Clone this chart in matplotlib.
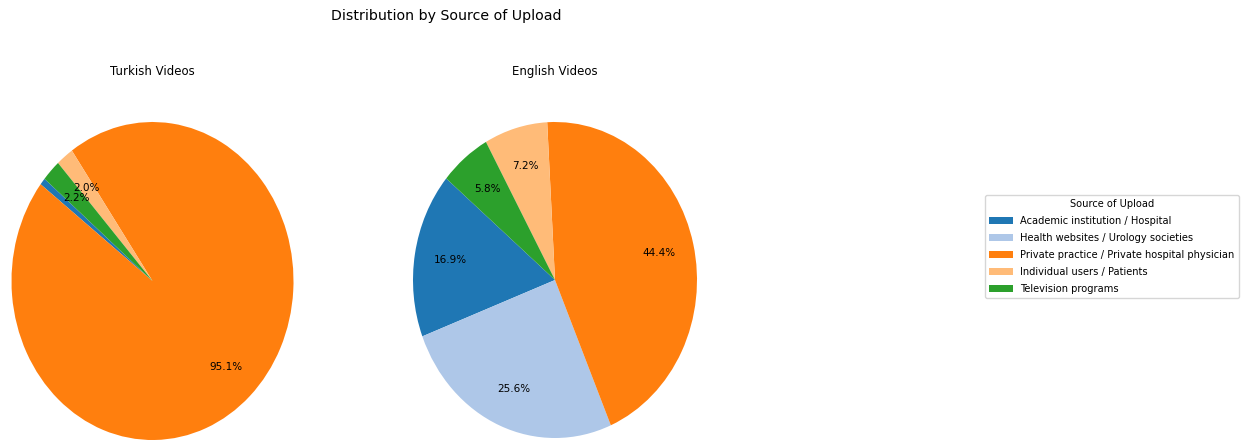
import matplotlib.pyplot as plt

sources = ["Academic institution / Hospital",
           "Health websites / Urology societies",
           "Private practice / Private hospital physician",
           "Individual users / Patients",
           "Television programs"]
turkish = [0.7, 0.0, 95.1, 2.0, 2.2]
english = [16.9, 25.6, 44.4, 7.2, 5.8]
colors = plt.get_cmap("tab20").colors[:5]


def pct(p):
    # tiny slices stay unlabeled
    return f"{p:.1f}%" if p >= 1 else ""


fig = plt.figure(figsize=(12.47, 4.43), dpi=100)
ax1 = fig.add_axes([11.5 / 1247, 3 / 443, 282 / 1247, 318 / 443])
ax2 = fig.add_axes([413 / 1247, 5 / 443, 284 / 1247, 316 / 443])

for ax, vals, title in [(ax1, turkish, "Turkish Videos"), (ax2, english, "English Videos")]:
    wedges, texts, autotexts = ax.pie(vals, colors=colors, autopct=pct, startangle=140,
                                      pctdistance=0.75, textprops={"fontsize": 7.5})
    ax.set_xlim(-1, 1)
    ax.set_ylim(-1, 1)
    ax.set_aspect("auto")
    ax.set_title(title, fontsize=8.5, pad=34)

fig.suptitle("Distribution by Source of Upload", fontsize=10.2, x=446 / 1247, y=0.98)

fig.legend(wedges, sources, title="Source of Upload", loc="center left",
           bbox_to_anchor=(980 / 1247, 0.4436), fontsize=7.1, title_fontsize=7.1,
           handlelength=2.4, labelspacing=0.7)

fig.savefig("out.png", dpi=100)
